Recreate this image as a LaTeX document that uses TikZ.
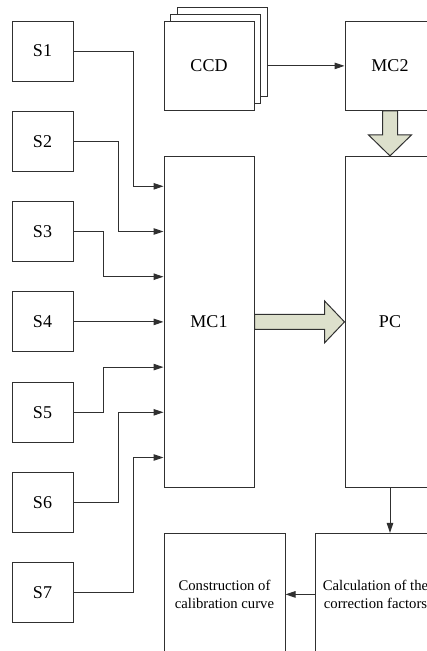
\documentclass[tikz,border=0pt]{standalone}
\usepackage{fontspec}
\setmainfont{Liberation Serif}
\usetikzlibrary{arrows.meta,positioning,calc,shadows}
\definecolor{linec}{HTML}{303030}
\definecolor{fatfill}{HTML}{DDE0CC}

\begin{document}
\begin{tikzpicture}[
    x=1pt, y=-1pt,
    node distance=90.3pt,
    sensor/.style={rectangle, draw=linec, line width=1pt, minimum width=61pt, minimum height=60pt, inner sep=0pt, text centered, font=\fontsize{18}{21}\selectfont},
    unit/.style={rectangle, draw=linec, line width=1pt, minimum width=90pt, inner sep=0pt, text centered, font=\fontsize{18}{21}\selectfont},
    stage/.style={rectangle, draw=linec, line width=1pt, minimum width=121pt, minimum height=122pt, inner sep=0pt, align=center, font=\fontsize{14.7}{18}\selectfont},
    arrow/.style={-{Triangle[length=10pt,width=6.5pt]}, draw=linec, line width=1pt},
    fat/.style={draw=linec, line width=1pt, fill=fatfill, line join=miter}
]
\useasboundingbox (0,0) rectangle (427,651);

% sensors
\node[sensor] (s1) at (42.5,51) {S1};
\node[sensor, below of=s1] (s2) {S2};
\node[sensor, below of=s2] (s3) {S3};
\node[sensor, below of=s3] (s4) {S4};
\node[sensor, below of=s4] (s5) {S5};
\node[sensor, below of=s5] (s6) {S6};
\node[sensor, below of=s6] (s7) {S7};

% controllers and PC
\node[unit, minimum height=331pt, right=90pt of s4] (mc1) {MC1};
\node[unit, minimum height=331pt, right=90pt of mc1] (pc) {PC};
\node[unit, minimum height=89pt, above=45pt of pc] (mc2) {MC2};
\node[unit, minimum height=89pt, fill=white, left=90pt of mc2,
      copy shadow={shadow xshift=13pt, shadow yshift=14pt, draw=linec, line width=1pt},
      copy shadow={shadow xshift=6.5pt, shadow yshift=7pt, draw=linec, line width=1pt}] (ccd) {CCD};

% processing
\node[stage, below=45pt of pc, xshift=-14.5pt] (calc) {Calculation of the\\correction factors};
\node[stage, left=29pt of calc] (cons) {Construction of\\calibration curve};

% sensor wires
\foreach \i/\dx in {1/60,2/45,3/30,5/30,6/45,7/60}
  \draw[arrow] (s\i.east) -- ++(\dx,0) |- ([yshift={(4-\i)*45.2pt}]mc1.west);
\draw[arrow] (s4) -- (mc1);

\draw[arrow] ([xshift=13pt]ccd.east) -- (mc2.west);
\draw[arrow] (pc.south) -- (pc.south |- calc.north);
\draw[arrow] (calc) -- (cons);

% block arrows
\draw[fat] ($(mc1.east)+(0,-7.5)$) -- ($(pc.west)+(-20,-7.5)$) -- ($(pc.west)+(-20,-21)$) -- (pc.west)
  -- ($(pc.west)+(-20,21)$) -- ($(pc.west)+(-20,7.5)$) -- ($(mc1.east)+(0,7.5)$) -- cycle;
\draw[fat] ($(mc2.south)+(-7.5,0)$) -- ($(pc.north)+(-7.5,-21)$) -- ($(pc.north)+(-21.5,-21)$) -- (pc.north)
  -- ($(pc.north)+(21.5,-21)$) -- ($(pc.north)+(7.5,-21)$) -- ($(mc2.south)+(7.5,0)$) -- cycle;

\end{tikzpicture}
\end{document}
